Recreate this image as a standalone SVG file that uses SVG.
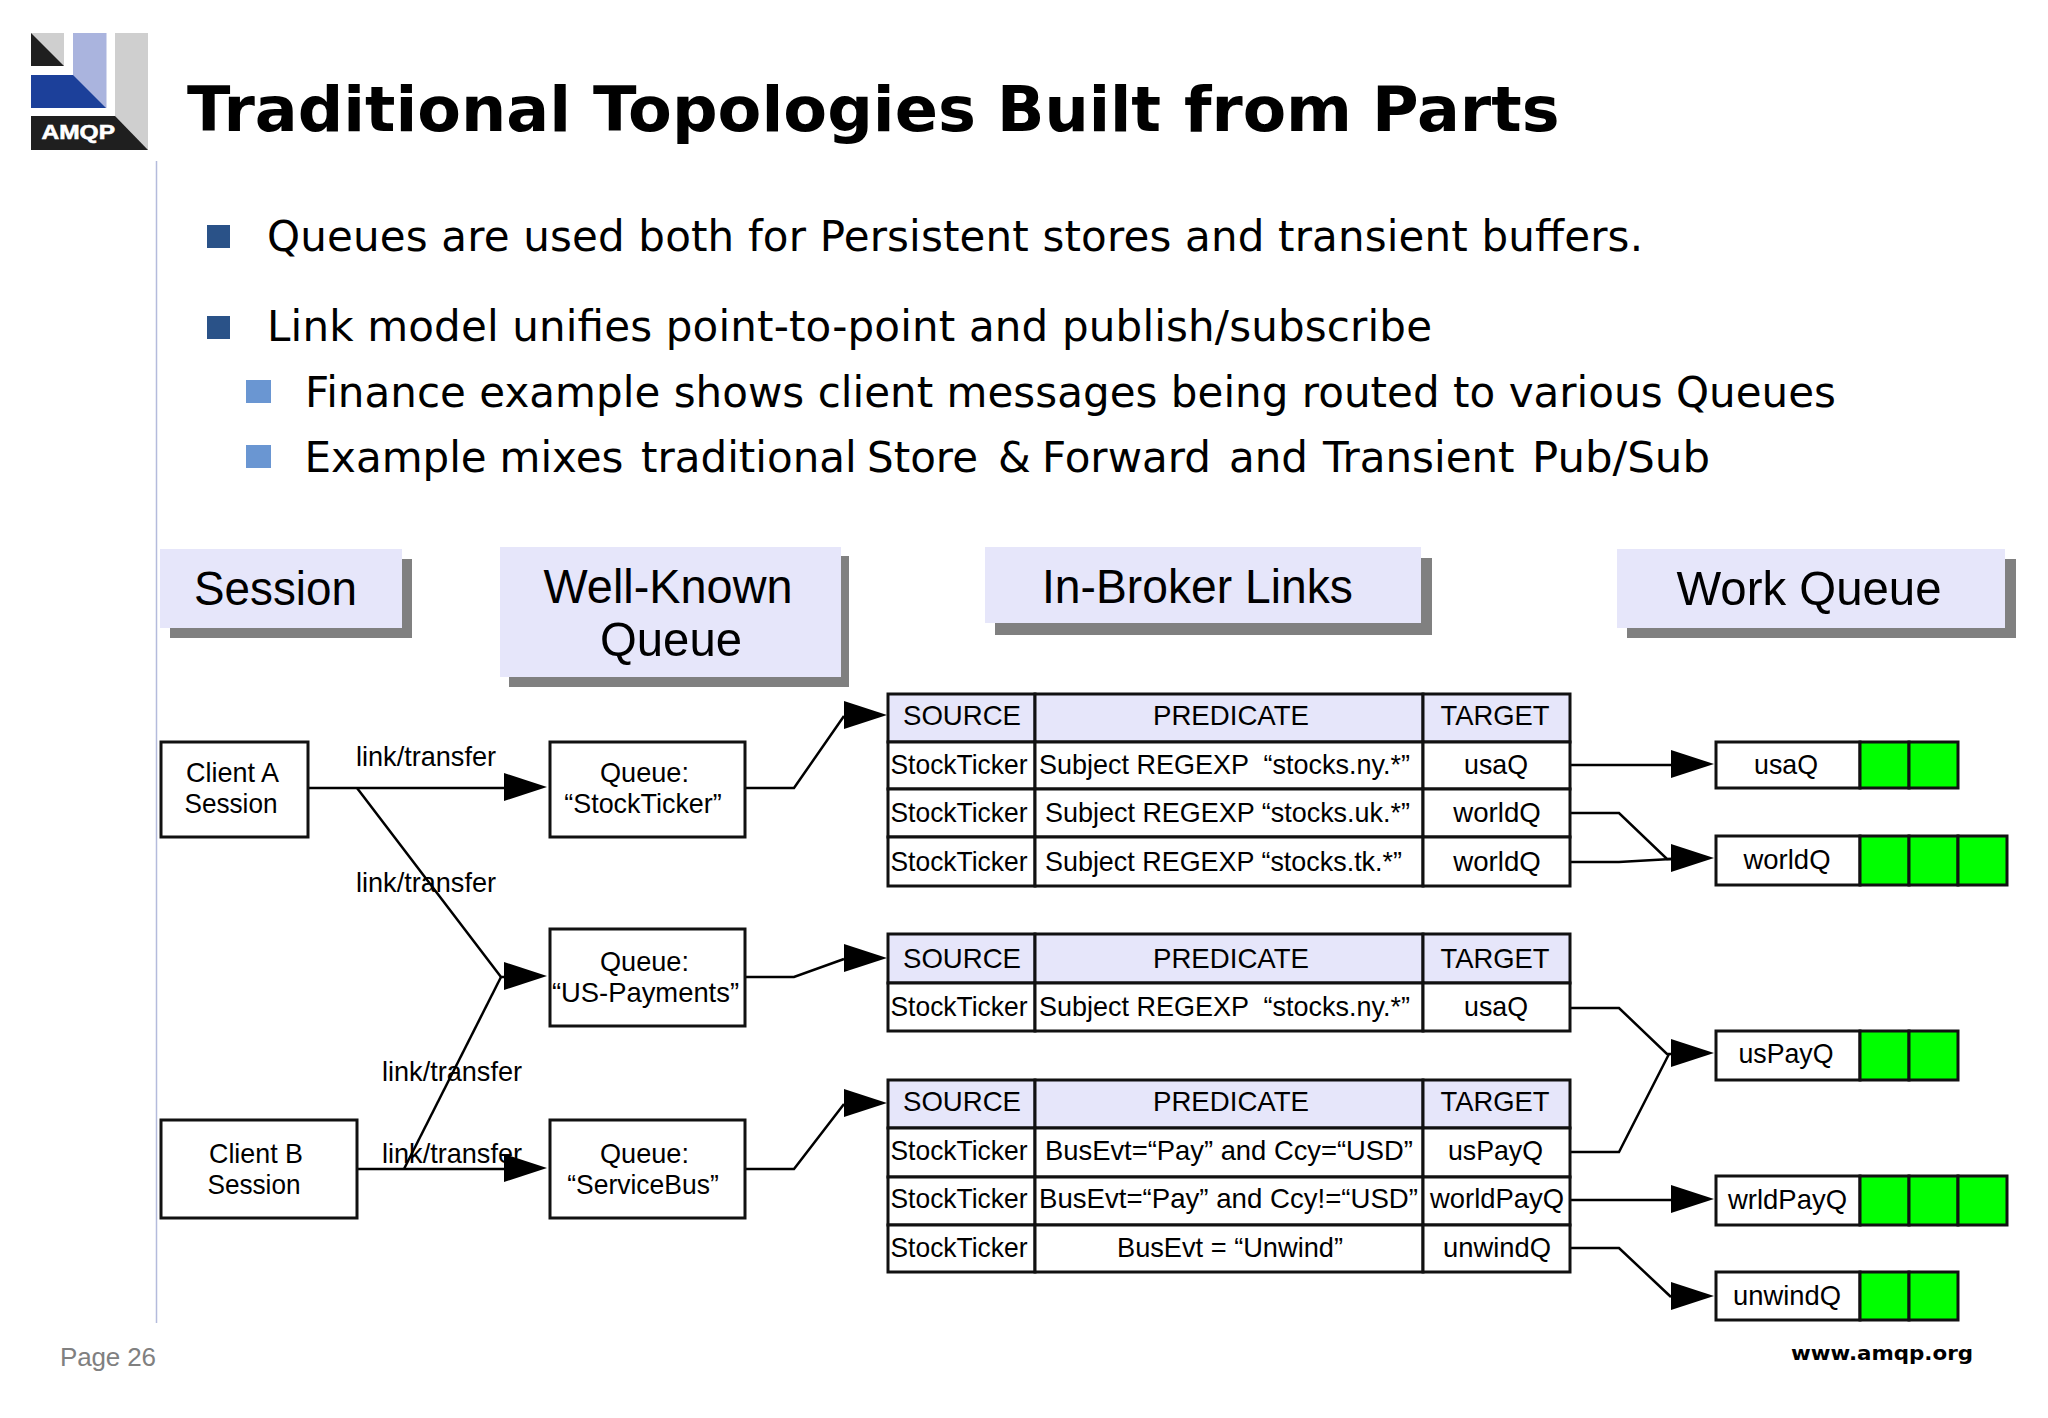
<svg xmlns="http://www.w3.org/2000/svg" width="2048" height="1418" viewBox="0 0 2048 1418">
<style>
text{font-family:"Liberation Sans",Arial,sans-serif;fill:#000}
.tt{font-family:"DejaVu Sans",Verdana,sans-serif}
.b{font-size:42px}
.hd{font-size:49px;text-anchor:middle}
.n{font-size:28px;text-anchor:middle}
.box{fill:#fff;stroke:#111;stroke-width:3}
.head{fill:#e6e6fa;stroke:#111;stroke-width:3}
.grn{fill:#00ff00;stroke:#111;stroke-width:3}
.card{fill:#e6e6fa}
.shd{fill:#808080}
.ln{fill:none;stroke:#000;stroke-width:2.500}
</style>
<defs>
<marker id="ah" markerUnits="userSpaceOnUse" markerWidth="46" markerHeight="34" refX="1" refY="16" orient="0" overflow="visible">
<polygon points="1,1 44,15 1,29" fill="#000"/>
</marker>
</defs>
<rect width="2048" height="1418" fill="#fff"/>
<g id="logo">
<rect x="31" y="33" width="33" height="33" fill="#cfcfcf"/>
<polygon points="31,33 64,66 31,66" fill="#1f1f1f"/>
<rect x="73" y="33" width="33.500" height="75" fill="#aab4de"/>
<polygon points="31,75 73,75 106,108 31,108" fill="#1c409a"/>
<rect x="115" y="33" width="33" height="117" fill="#cfcfcf"/>
<polygon points="31,116 115,116 148,150 31,150" fill="#1f1f1f"/>
<text x="41.500" y="139" font-size="20" font-weight="700" stroke="#fff" stroke-width=".6" style="fill:#fff" textLength="73.500" lengthAdjust="spacingAndGlyphs">AMQP</text>
</g>
<line x1="156.500" y1="161" x2="156.500" y2="1323" stroke="#b4bbdc" stroke-width="1.500"/>
<text class="tt" y="131" font-size="63" font-weight="700"><tspan x="187" textLength="384" lengthAdjust="spacingAndGlyphs">Traditional</tspan> <tspan x="593" textLength="383" lengthAdjust="spacingAndGlyphs">Topologies</tspan> <tspan x="997" textLength="164" lengthAdjust="spacingAndGlyphs">Built</tspan> <tspan x="1184" textLength="168" lengthAdjust="spacingAndGlyphs">from</tspan> <tspan x="1372" textLength="187.500" lengthAdjust="spacingAndGlyphs">Parts</tspan></text>
<g id="bullets">
<rect x="207" y="225" width="23" height="23" fill="#2a5288"/>
<text class="tt b" x="267" y="251" textLength="1376" lengthAdjust="spacing">Queues are used both for Persistent stores and transient buffers.</text>
<rect x="207" y="316" width="23" height="23" fill="#2a5288"/>
<text class="tt b" x="267" y="341" textLength="1165" lengthAdjust="spacing">Link model unifies point-to-point and publish/subscribe</text>
<rect x="246" y="380" width="25" height="23" fill="#6a96d2"/>
<text class="tt b" x="305" y="407" textLength="1531" lengthAdjust="spacing">Finance example shows client messages being routed to various Queues</text>
<rect x="246" y="445" width="25" height="23" fill="#6a96d2"/>
<text class="tt b" y="472"><tspan x="304.500">Example</tspan> <tspan x="499.500">mixes</tspan> <tspan x="641">traditional</tspan> <tspan x="867">Store</tspan> <tspan x="998">&amp;</tspan> <tspan x="1042">Forward</tspan> <tspan x="1229">and</tspan> <tspan x="1323">Transient</tspan> <tspan x="1532" textLength="178" lengthAdjust="spacingAndGlyphs">Pub/Sub</tspan></text>
</g>
<g id="card-session"><rect class="shd" x="170" y="559" width="242" height="79"/><rect class="card" x="160" y="549" width="242" height="79"/><text class="hd" x="275.500" y="605" textLength="163" lengthAdjust="spacingAndGlyphs">Session</text></g>
<g id="card-wkq"><rect class="shd" x="509" y="556" width="340" height="131"/><rect class="card" x="500" y="547" width="341" height="130"/><text class="hd" x="668" y="603" textLength="249" lengthAdjust="spacingAndGlyphs">Well-Known</text><text class="hd" x="671" y="656" textLength="142" lengthAdjust="spacingAndGlyphs">Queue</text></g>
<g id="card-links"><rect class="shd" x="995" y="558" width="437" height="77"/><rect class="card" x="985" y="547" width="436" height="76"/><text class="hd" x="1197.500" y="603" textLength="311" lengthAdjust="spacingAndGlyphs">In-Broker Links</text></g>
<g id="card-wq"><rect class="shd" x="1627" y="559" width="389" height="79"/><rect class="card" x="1617" y="549" width="388" height="79"/><text class="hd" x="1809" y="605" textLength="265" lengthAdjust="spacingAndGlyphs">Work Queue</text></g>

<g id="connectors">
<polyline class="ln" points="308,788 504,788" marker-end="url(#ah)"/>
<polyline class="ln" points="357,788 501,977 504,977" marker-end="url(#ah)"/>
<polyline class="ln" points="357,1169 504,1169" marker-end="url(#ah)"/>
<polyline class="ln" points="404,1169 501,977"/>
<polyline class="ln" points="745,788 794,788 844,716" marker-end="url(#ah)"/>
<polyline class="ln" points="745,977 794,977 844,959" marker-end="url(#ah)"/>
<polyline class="ln" points="745,1169 794,1169 844,1104" marker-end="url(#ah)"/>
<polyline class="ln" points="1570,765 1671,765" marker-end="url(#ah)"/>
<polyline class="ln" points="1570,813 1619,813 1667,859 1671,859" marker-end="url(#ah)"/>
<polyline class="ln" points="1570,862 1619,862 1671,859"/>
<polyline class="ln" points="1570,1008 1619,1008 1667,1054 1671,1054" marker-end="url(#ah)"/>
<polyline class="ln" points="1570,1152 1619,1152 1669,1054"/>
<polyline class="ln" points="1570,1200 1671,1200" marker-end="url(#ah)"/>
<polyline class="ln" points="1570,1248 1619,1248 1671,1297" marker-end="url(#ah)"/>
</g>
<g id="edge-labels">
<text class="n" x="426" y="766" textLength="140" lengthAdjust="spacingAndGlyphs">link/transfer</text>
<text class="n" x="426" y="892" textLength="140" lengthAdjust="spacingAndGlyphs">link/transfer</text>
<text class="n" x="452" y="1081" textLength="140" lengthAdjust="spacingAndGlyphs">link/transfer</text>
<text class="n" x="452" y="1163" textLength="140" lengthAdjust="spacingAndGlyphs">link/transfer</text>
</g>
<g id="client-a"><rect class="box" x="161" y="742" width="147" height="95"/><text class="n" x="232.500" y="782" textLength="93" lengthAdjust="spacingAndGlyphs">Client A</text><text class="n" x="231" y="813" textLength="93" lengthAdjust="spacingAndGlyphs">Session</text></g>
<g id="client-b"><rect class="box" x="161" y="1120" width="196" height="98"/><text class="n" x="256" y="1163" textLength="94" lengthAdjust="spacingAndGlyphs">Client B</text><text class="n" x="254" y="1193.500" textLength="93" lengthAdjust="spacingAndGlyphs">Session</text></g>
<g id="q-stockticker"><rect class="box" x="550" y="742" width="195" height="95"/><text class="n" x="644.500" y="782" textLength="89" lengthAdjust="spacingAndGlyphs">Queue:</text><text class="n" x="643" y="813" textLength="157.500" lengthAdjust="spacingAndGlyphs">“StockTicker”</text></g>
<g id="q-uspayments"><rect class="box" x="550" y="929" width="195" height="97"/><text class="n" x="644.500" y="971" textLength="89" lengthAdjust="spacingAndGlyphs">Queue:</text><text class="n" x="645.500" y="1001.500" textLength="187" lengthAdjust="spacingAndGlyphs">“US-Payments”</text></g>
<g id="q-servicebus"><rect class="box" x="550" y="1120" width="195" height="98"/><text class="n" x="644.500" y="1163" textLength="89" lengthAdjust="spacingAndGlyphs">Queue:</text><text class="n" x="643" y="1193.500" textLength="151.500" lengthAdjust="spacingAndGlyphs">“ServiceBus”</text></g>

<g id="table-1">
<rect class="head" x="888" y="694" width="147" height="48"/><rect class="head" x="1035" y="694" width="388" height="48"/><rect class="head" x="1423" y="694" width="147" height="48"/>
<rect class="box" x="888" y="742" width="147" height="47"/><rect class="box" x="1035" y="742" width="388" height="47"/><rect class="box" x="1423" y="742" width="147" height="47"/>
<rect class="box" x="888" y="789" width="147" height="48"/><rect class="box" x="1035" y="789" width="388" height="48"/><rect class="box" x="1423" y="789" width="147" height="48"/>
<rect class="box" x="888" y="837" width="147" height="49"/><rect class="box" x="1035" y="837" width="388" height="49"/><rect class="box" x="1423" y="837" width="147" height="49"/>
<text class="n" x="962" y="725" textLength="118" lengthAdjust="spacingAndGlyphs">SOURCE</text><text class="n" x="1231" y="725" textLength="156" lengthAdjust="spacingAndGlyphs">PREDICATE</text><text class="n" x="1495" y="725" textLength="109" lengthAdjust="spacingAndGlyphs">TARGET</text>
<text class="n" x="959" y="773.500" textLength="137" lengthAdjust="spacingAndGlyphs">StockTicker</text><text class="n" x="1224.500" y="773.500" textLength="371" lengthAdjust="spacingAndGlyphs">Subject REGEXP &#160;“stocks.ny.*”</text><text class="n" x="1496" y="773.500" textLength="64" lengthAdjust="spacingAndGlyphs">usaQ</text>
<text class="n" x="959" y="822" textLength="137" lengthAdjust="spacingAndGlyphs">StockTicker</text><text class="n" x="1227.500" y="822" textLength="365" lengthAdjust="spacingAndGlyphs">Subject REGEXP “stocks.uk.*”</text><text class="n" x="1497" y="822" textLength="87.500" lengthAdjust="spacingAndGlyphs">worldQ</text>
<text class="n" x="959" y="871" textLength="137" lengthAdjust="spacingAndGlyphs">StockTicker</text><text class="n" x="1223.500" y="871" textLength="357" lengthAdjust="spacingAndGlyphs">Subject REGEXP “stocks.tk.*”</text><text class="n" x="1497" y="871" textLength="87.500" lengthAdjust="spacingAndGlyphs">worldQ</text>
</g>
<g id="table-2">
<rect class="head" x="888" y="934" width="147" height="49"/><rect class="head" x="1035" y="934" width="388" height="49"/><rect class="head" x="1423" y="934" width="147" height="49"/>
<rect class="box" x="888" y="983" width="147" height="48"/><rect class="box" x="1035" y="983" width="388" height="48"/><rect class="box" x="1423" y="983" width="147" height="48"/>
<text class="n" x="962" y="967.500" textLength="118" lengthAdjust="spacingAndGlyphs">SOURCE</text><text class="n" x="1231" y="967.500" textLength="156" lengthAdjust="spacingAndGlyphs">PREDICATE</text><text class="n" x="1495" y="967.500" textLength="109" lengthAdjust="spacingAndGlyphs">TARGET</text>
<text class="n" x="959" y="1016" textLength="137" lengthAdjust="spacingAndGlyphs">StockTicker</text><text class="n" x="1224.500" y="1016" textLength="371" lengthAdjust="spacingAndGlyphs">Subject REGEXP &#160;“stocks.ny.*”</text><text class="n" x="1496" y="1016" textLength="64" lengthAdjust="spacingAndGlyphs">usaQ</text>
</g>
<g id="table-3">
<rect class="head" x="888" y="1080" width="147" height="48"/><rect class="head" x="1035" y="1080" width="388" height="48"/><rect class="head" x="1423" y="1080" width="147" height="48"/>
<rect class="box" x="888" y="1128" width="147" height="49"/><rect class="box" x="1035" y="1128" width="388" height="49"/><rect class="box" x="1423" y="1128" width="147" height="49"/>
<rect class="box" x="888" y="1177" width="147" height="48"/><rect class="box" x="1035" y="1177" width="388" height="48"/><rect class="box" x="1423" y="1177" width="147" height="48"/>
<rect class="box" x="888" y="1225" width="147" height="47"/><rect class="box" x="1035" y="1225" width="388" height="47"/><rect class="box" x="1423" y="1225" width="147" height="47"/>
<text class="n" x="962" y="1111" textLength="118" lengthAdjust="spacingAndGlyphs">SOURCE</text><text class="n" x="1231" y="1111" textLength="156" lengthAdjust="spacingAndGlyphs">PREDICATE</text><text class="n" x="1495" y="1111" textLength="109" lengthAdjust="spacingAndGlyphs">TARGET</text>
<text class="n" x="959" y="1159.500" textLength="137" lengthAdjust="spacingAndGlyphs">StockTicker</text><text class="n" x="1229" y="1159.500" textLength="368" lengthAdjust="spacingAndGlyphs">BusEvt=“Pay” and Ccy=“USD”</text><text class="n" x="1495.500" y="1159.500" textLength="95" lengthAdjust="spacingAndGlyphs">usPayQ</text>
<text class="n" x="959" y="1208" textLength="137" lengthAdjust="spacingAndGlyphs">StockTicker</text><text class="n" x="1228.500" y="1208" textLength="379" lengthAdjust="spacingAndGlyphs">BusEvt=“Pay” and Ccy!=“USD”</text><text class="n" x="1497" y="1208" textLength="134" lengthAdjust="spacingAndGlyphs">worldPayQ</text>
<text class="n" x="959" y="1257" textLength="137" lengthAdjust="spacingAndGlyphs">StockTicker</text><text class="n" x="1230" y="1257" textLength="226" lengthAdjust="spacingAndGlyphs">BusEvt = “Unwind”</text><text class="n" x="1497" y="1257" textLength="108" lengthAdjust="spacingAndGlyphs">unwindQ</text>
</g>
<g id="wq-usaq"><rect class="box" x="1716" y="742" width="144" height="46"/><rect class="grn" x="1860" y="742" width="49" height="46"/><rect class="grn" x="1909" y="742" width="49" height="46"/><text class="n" x="1786" y="774" textLength="64" lengthAdjust="spacingAndGlyphs">usaQ</text></g>
<g id="wq-worldq"><rect class="box" x="1716" y="836" width="144" height="49"/><rect class="grn" x="1860" y="836" width="49" height="49"/><rect class="grn" x="1909" y="836" width="49" height="49"/><rect class="grn" x="1958" y="836" width="49" height="49"/><text class="n" x="1787" y="869" textLength="87" lengthAdjust="spacingAndGlyphs">worldQ</text></g>
<g id="wq-uspayq"><rect class="box" x="1716" y="1031" width="144" height="49"/><rect class="grn" x="1860" y="1031" width="49" height="49"/><rect class="grn" x="1909" y="1031" width="49" height="49"/><text class="n" x="1786" y="1063" textLength="95" lengthAdjust="spacingAndGlyphs">usPayQ</text></g>
<g id="wq-wrldpayq"><rect class="box" x="1716" y="1176" width="144" height="49"/><rect class="grn" x="1860" y="1176" width="49" height="49"/><rect class="grn" x="1909" y="1176" width="49" height="49"/><rect class="grn" x="1958" y="1176" width="49" height="49"/><text class="n" x="1787.500" y="1208.500" textLength="119" lengthAdjust="spacingAndGlyphs">wrldPayQ</text></g>
<g id="wq-unwindq"><rect class="box" x="1716" y="1272" width="144" height="48"/><rect class="grn" x="1860" y="1272" width="49" height="48"/><rect class="grn" x="1909" y="1272" width="49" height="48"/><text class="n" x="1787" y="1304.500" textLength="108" lengthAdjust="spacingAndGlyphs">unwindQ</text></g>
<text x="60" y="1366" font-size="26" textLength="96" style="fill:#808080">Page 26</text>
<text class="tt" x="1791" y="1360" font-size="20" font-weight="700" textLength="182" lengthAdjust="spacingAndGlyphs">www.amqp.org</text>
</svg>
